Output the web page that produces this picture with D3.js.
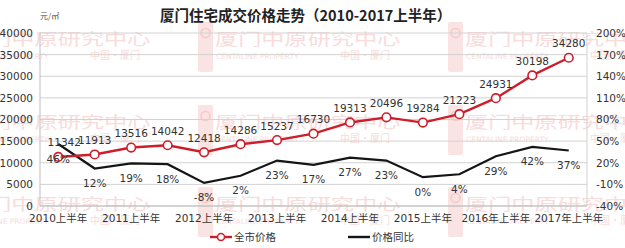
<!DOCTYPE html>
<html><head><meta charset="utf-8">
<script src="https://cdn.jsdelivr.net/npm/d3@7"></script>
<style>body{margin:0;background:#fff}svg{display:block}</style>
</head><body>
<svg id="c" width="625" height="248"></svg>
<script>
const categories = ["2010上半年","2010下半年","2011上半年","2011下半年","2012上半年","2012下半年","2013上半年","2013下半年","2014上半年","2014下半年","2015上半年","2015下半年","2016年上半年","2016年下半年","2017年上半年"];
const priceValues = [11342,11913,13516,14042,12418,14286,15237,16730,19313,20496,19284,21223,24931,30198,34280];
const yoyValues = [46,12,19,18,-8,2,23,17,27,23,0,4,29,42,37];
const leftTicks = [0,5000,10000,15000,20000,25000,30000,35000,40000];
const rightTicks = [-40,-10,20,50,80,110,140,170,200];
const labeledCats = ["2010上半年","2011上半年","2012上半年","2013上半年","2014上半年","2015上半年","2016年上半年","2017年上半年"];

const svg = d3.select("#c");
const m = {l:40, r:587, t:33, b:206};
const x = d3.scaleBand().domain(categories).range([m.l, m.r]);
const cx = d => x(d) + x.bandwidth()/2;
const yL = d3.scaleLinear().domain([0,40000]).range([m.b, m.t]);
const yR = d3.scaleLinear().domain([-40,200]).range([m.b, m.t]);
const font = "'Century Gothic','DejaVu Sans','Noto Sans CJK SC',sans-serif";

// watermark (faint)
const wm = svg.append("g").attr("font-family","'Noto Sans CJK SC',sans-serif");
[22,105,187].forEach(wy=>[-52,198,448].forEach(wx=>{
  wm.append("rect").attr("x",wx).attr("y",wy).attr("width",15).attr("height",50).attr("rx",2).attr("fill","#fae3e3");
  wm.append("circle").attr("cx",wx+7.5).attr("cy",wy+11).attr("r",4.5).attr("fill","none").attr("stroke","#f4caca").attr("stroke-width",1.5);
  wm.append("text").attr("transform",`translate(${wx+17},${wy+23}) scale(1.45,1)`).attr("font-size",16).attr("fill","#f8dcdc").text("厦门中原研究中心");
  wm.append("text").attr("x",wx+18).attr("y",wy+37).attr("font-size",7.5).attr("fill","#f8dcdc").attr("font-family","'DejaVu Sans',sans-serif").text("CENTALINE PROPERTY");
  wm.append("text").attr("x",wx+142).attr("y",wy+37).attr("font-size",10).attr("fill","#f8dcdc").text("中国·厦门");
}));

// grid
svg.append("g").selectAll("line").data(leftTicks).join("line")
  .attr("x1",m.l).attr("x2",m.r).attr("y1",d=>yL(d)).attr("y2",d=>yL(d))
  .attr("stroke","#d2d2d2").attr("stroke-width",1);
svg.append("line").attr("x1",m.l).attr("x2",m.l).attr("y1",m.t).attr("y2",m.b).attr("stroke","#bdbdbd");
svg.append("line").attr("x1",m.r).attr("x2",m.r).attr("y1",m.t).attr("y2",m.b).attr("stroke","#d2d2d2");
svg.append("line").attr("x1",m.l).attr("x2",m.r).attr("y1",m.b).attr("y2",m.b).attr("stroke","#bdbdbd");

// left axis
const gl = svg.append("g").attr("transform",`translate(${m.l-7},0)`)
  .call(d3.axisLeft(yL).tickValues(leftTicks).tickSize(0).tickPadding(0).tickFormat(d3.format("d")));
gl.select(".domain").remove();
gl.selectAll("text").attr("font-family",font).attr("font-size",10.5).attr("fill","#333");

// right axis
const gr = svg.append("g").attr("transform",`translate(${m.r+9},0)`)
  .call(d3.axisRight(yR).tickValues(rightTicks).tickSize(0).tickPadding(0).tickFormat(d=>d+"%"));
gr.select(".domain").remove();
gr.selectAll("text").attr("font-family",font).attr("font-size",10.5).attr("fill","#333");

// x axis
const gx = svg.append("g").attr("transform",`translate(0,${m.b+9})`)
  .call(d3.axisBottom(x).tickValues(labeledCats).tickSize(0).tickPadding(0));
gx.select(".domain").remove();
gx.selectAll("text").attr("font-family",font).attr("font-size",10.5).attr("fill","#333").attr("dy","0.71em");

// black YoY line
svg.append("path").datum(yoyValues.map((v,i)=>[categories[i],v]))
  .attr("fill","none").attr("stroke","#151515").attr("stroke-width",2.2)
  .attr("d", d3.line().x(d=>cx(d[0])).y(d=>yR(d[1])));

// red price line
svg.append("path").datum(priceValues.map((v,i)=>[categories[i],v]))
  .attr("fill","none").attr("stroke","#cc1f2b").attr("stroke-width",2.4)
  .attr("d", d3.line().x(d=>cx(d[0])).y(d=>yL(d[1])));
svg.append("g").selectAll("circle").data(priceValues).join("circle")
  .attr("cx",(d,i)=>cx(categories[i])).attr("cy",d=>yL(d)).attr("r",4.3)
  .attr("fill","#fff").attr("stroke","#cc1f2b").attr("stroke-width",1.6);

// labels
svg.append("g").selectAll("text").data(priceValues).join("text")
  .attr("x",(d,i)=>cx(categories[i]) + (i===0?6:0)).attr("y",d=>yL(d)-10.5)
  .attr("text-anchor","middle").attr("font-family",font).attr("font-size",10.5).attr("fill","#333")
  .text(d=>d);
svg.append("g").selectAll("text").data(yoyValues).join("text")
  .attr("x",(d,i)=>cx(categories[i])).attr("y",d=>yR(d)+18.5)
  .attr("text-anchor","middle").attr("font-family",font).attr("font-size",10.5).attr("fill","#333")
  .text(d=>d+"%");

// title
svg.append("text").attr("x",160).attr("y",21)
  .attr("font-family","'Noto Sans CJK SC',sans-serif").attr("font-weight","bold").attr("font-size",14.5).attr("fill","#222")
  .text("厦门住宅成交价格走势（2010-2017上半年）");
svg.append("text").attr("x",40).attr("y",19).attr("font-family","'Noto Sans CJK SC',sans-serif").attr("font-size",8).attr("fill","#555").text("元/㎡");

// legend
const lg = svg.append("g").attr("font-family","'Noto Sans CJK SC',sans-serif").attr("font-size",10.5).attr("fill","#333");
lg.append("line").attr("x1",210).attr("x2",232).attr("y1",237).attr("y2",237).attr("stroke","#cc1f2b").attr("stroke-width",2.4);
lg.append("circle").attr("cx",221).attr("cy",237).attr("r",3.5).attr("fill","#fff").attr("stroke","#cc1f2b").attr("stroke-width",1.5);
lg.append("text").attr("x",234).attr("y",241).text("全市价格");
lg.append("line").attr("x1",348).attr("x2",370).attr("y1",237).attr("y2",237).attr("stroke","#151515").attr("stroke-width",2.4);
lg.append("text").attr("x",372).attr("y",241).text("价格同比");
</script>
</body></html>
